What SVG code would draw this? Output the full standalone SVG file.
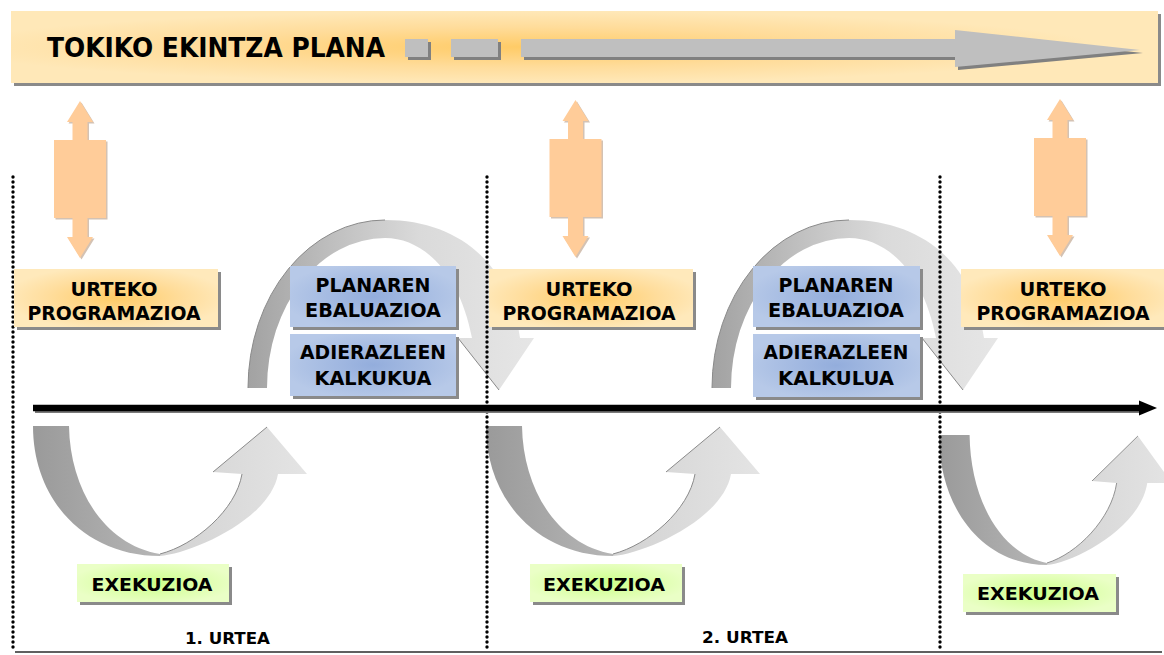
<svg xmlns="http://www.w3.org/2000/svg" xmlns:xlink="http://www.w3.org/1999/xlink" width="1164" height="655" viewBox="0 0 1164 655">
<style>
.t{font-family:"DejaVu Sans","Liberation Sans",sans-serif;font-weight:bold;fill:#000;}
.shadow{fill:#8A8A8A;}
.gray{fill:#BFBFBF;}
.dots{stroke:#000;stroke-width:3.4;stroke-linecap:round;stroke-dasharray:0 5;fill:none;}
.edge{fill:none;stroke:#8A8A8A;stroke-width:1;}
</style>
<defs>
<radialGradient id="gBanner" cx="0.45" cy="0.5" r="0.5">
<stop offset="0" stop-color="#FFCB66"/>
<stop offset="0.55" stop-color="#FFDC9A"/>
<stop offset="1" stop-color="#FFE8B8"/>
</radialGradient>
<radialGradient id="gOrange" cx="0.5" cy="0.5" r="0.55">
<stop offset="0" stop-color="#FFCB66"/>
<stop offset="0.6" stop-color="#FFDD9C"/>
<stop offset="1" stop-color="#FFE9BB"/>
</radialGradient>
<radialGradient id="gBlue" cx="0.5" cy="0.5" r="0.55">
<stop offset="0" stop-color="#93ADDC"/>
<stop offset="1" stop-color="#B7C9E8"/>
</radialGradient>
<radialGradient id="gGreen" cx="0.5" cy="0.5" r="0.55">
<stop offset="0" stop-color="#CCFF8A"/>
<stop offset="1" stop-color="#EAFFC6"/>
</radialGradient>
<linearGradient id="gArch" x1="0" y1="0" x2="1" y2="0">
<stop offset="0" stop-color="#A2A2A2"/>
<stop offset="0.35" stop-color="#C4C4C4"/>
<stop offset="0.6" stop-color="#DADADA"/>
<stop offset="1" stop-color="#E6E6E6"/>
</linearGradient>
<linearGradient id="gDark" x1="0" y1="0" x2="1" y2="0">
<stop offset="0" stop-color="#9A9A9A"/>
<stop offset="1" stop-color="#B6B6B6"/>
</linearGradient>
<linearGradient id="gLight" x1="0" y1="0" x2="1" y2="0">
<stop offset="0" stop-color="#D2D2D2"/>
<stop offset="1" stop-color="#E4E4E4"/>
</linearGradient>
<g id="arch">
<path d="M248,388 A137,168 0 0 1 385,220 C460,220 510,265 520,338 L534,338 L499,390 L458,338 L472,338 C460,275 425,238 385,238 A118,150 0 0 0 267,388 Z" fill="url(#gArch)"/>
<path d="M248,388 A137,168 0 0 1 385,220" class="edge"/>
<path d="M458,338 L499,390" class="edge"/>
</g>
<g id="uarrow">
<path d="M33,426 L69,426 C70,490 105,545 160,554 L160,556 C85,556 33,500 33,426 Z" fill="url(#gDark)"/>
<path d="M160,556 C190,554 270,520 278,474 L307,474 L267,427 L213,472 L242,474 C236,510 195,545 160,554 Z" fill="url(#gLight)"/>
<path d="M160,554 C195,545 236,510 242,474 M213,472 L267,427" class="edge"/>
</g>
<path id="dbl" d="M0,0 L13,21 L7.5,21 L7.5,39 L26,39 L26,117 L7.5,117 L7.5,136 L13,136 L0,157 L-13,136 L-7.5,136 L-7.5,117 L-26,117 L-26,39 L-7.5,39 L-7.5,21 L-13,21 Z"/>
</defs>

<g id="banner">
<rect x="14" y="14" width="1147" height="72" class="shadow"/>
<rect x="11" y="11" width="1147" height="72" fill="url(#gBanner)"/>
<text class="t" x="47" y="57" font-size="26" textLength="338" lengthAdjust="spacingAndGlyphs">TOKIKO EKINTZA PLANA</text>
<rect x="408" y="42" width="23" height="18" fill="#808080"/>
<rect x="405" y="39" width="23" height="18" class="gray"/>
<rect x="454" y="42" width="47" height="18" fill="#808080"/>
<rect x="451" y="39" width="47" height="18" class="gray"/>
<rect x="524" y="42" width="434" height="18" fill="#808080"/>
<polygon points="958,33 1143,53 958,70" fill="#808080"/>
<rect x="521" y="39" width="436" height="18" class="gray"/>
<polygon points="955,30 1140,50 955,67" class="gray"/>
</g>

<g id="connectors">
<use xlink:href="#arch"/>
<use xlink:href="#arch" transform="translate(464,0)"/>
<use xlink:href="#uarrow"/>
<use xlink:href="#uarrow" transform="translate(453,0)"/>
<use xlink:href="#uarrow" transform="translate(939,435) scale(0.85,1) translate(-33,-426)"/>
<line x1="13" y1="177" x2="13" y2="651" class="dots"/>
<line x1="487" y1="177" x2="487" y2="651" class="dots"/>
<line x1="940" y1="177" x2="940" y2="651" class="dots"/>
<line x1="35" y1="410" x2="1142" y2="410" stroke="#7A7A7A" stroke-width="6"/>
<line x1="33" y1="408" x2="1141" y2="408" stroke="#000" stroke-width="6.5"/>
<polygon points="1139,400.5 1157,408 1139,415.5" fill="#000"/>
<line x1="15" y1="652" x2="1162" y2="652" stroke="#606060" stroke-width="2"/>
<g fill="#FFCC99">
<use xlink:href="#dbl" transform="translate(81.5,102.5)" fill="#B89A80" opacity="0.6"/>
<use xlink:href="#dbl" transform="translate(80,101)"/>
<use xlink:href="#dbl" transform="translate(577,101.5)" fill="#B89A80" opacity="0.6"/>
<use xlink:href="#dbl" transform="translate(575.5,100)"/>
<use xlink:href="#dbl" transform="translate(1061.5,100.5)" fill="#B89A80" opacity="0.6"/>
<use xlink:href="#dbl" transform="translate(1060,99)"/>
</g>
</g>

<g id="urteko1">
<rect x="17" y="272" width="204" height="58" class="shadow"/>
<rect x="14" y="269" width="204" height="58" fill="url(#gOrange)"/>
<text class="t" x="114" y="296" font-size="20" text-anchor="middle" textLength="87" lengthAdjust="spacingAndGlyphs">URTEKO</text>
<text class="t" x="114" y="320" font-size="20" text-anchor="middle" textLength="173" lengthAdjust="spacingAndGlyphs">PROGRAMAZIOA</text>
</g>
<g id="urteko2">
<rect x="492" y="272" width="204" height="58" class="shadow"/>
<rect x="489" y="269" width="204" height="58" fill="url(#gOrange)"/>
<text class="t" x="589" y="296" font-size="20" text-anchor="middle" textLength="87" lengthAdjust="spacingAndGlyphs">URTEKO</text>
<text class="t" x="589" y="320" font-size="20" text-anchor="middle" textLength="173" lengthAdjust="spacingAndGlyphs">PROGRAMAZIOA</text>
</g>
<g id="urteko3">
<rect x="964" y="272" width="204" height="58" class="shadow"/>
<rect x="961" y="269" width="206" height="58" fill="url(#gOrange)"/>
<text class="t" x="1063" y="296" font-size="20" text-anchor="middle" textLength="87" lengthAdjust="spacingAndGlyphs">URTEKO</text>
<text class="t" x="1063" y="320" font-size="20" text-anchor="middle" textLength="173" lengthAdjust="spacingAndGlyphs">PROGRAMAZIOA</text>
</g>

<g id="planaren1">
<rect x="293" y="269" width="166" height="61" class="shadow"/>
<rect x="290" y="266" width="166" height="61" fill="url(#gBlue)"/>
<text class="t" x="373" y="292" font-size="19" text-anchor="middle" textLength="115" lengthAdjust="spacingAndGlyphs">PLANAREN</text>
<text class="t" x="373" y="317" font-size="19" text-anchor="middle" textLength="136" lengthAdjust="spacingAndGlyphs">EBALUAZIOA</text>
</g>
<g id="adierazleen1">
<rect x="293" y="337" width="166" height="62" class="shadow"/>
<rect x="290" y="334" width="166" height="62" fill="url(#gBlue)"/>
<text class="t" x="373" y="359" font-size="19" text-anchor="middle" textLength="146" lengthAdjust="spacingAndGlyphs">ADIERAZLEEN</text>
<text class="t" x="373" y="385" font-size="19" text-anchor="middle" textLength="117" lengthAdjust="spacingAndGlyphs">KALKUKUA</text>
</g>
<g id="planaren2">
<rect x="756" y="269" width="167" height="61" class="shadow"/>
<rect x="753" y="266" width="167" height="61" fill="url(#gBlue)"/>
<text class="t" x="836" y="292" font-size="19" text-anchor="middle" textLength="115" lengthAdjust="spacingAndGlyphs">PLANAREN</text>
<text class="t" x="836" y="317" font-size="19" text-anchor="middle" textLength="136" lengthAdjust="spacingAndGlyphs">EBALUAZIOA</text>
</g>
<g id="adierazleen2">
<rect x="756" y="337" width="167" height="63" class="shadow"/>
<rect x="753" y="334" width="167" height="63" fill="url(#gBlue)"/>
<text class="t" x="836" y="359" font-size="19" text-anchor="middle" textLength="145" lengthAdjust="spacingAndGlyphs">ADIERAZLEEN</text>
<text class="t" x="836" y="385" font-size="19" text-anchor="middle" textLength="116" lengthAdjust="spacingAndGlyphs">KALKULUA</text>
</g>

<g id="exekuzioa1">
<rect x="80" y="567" width="152" height="38" class="shadow"/>
<rect x="77" y="564" width="152" height="38" fill="url(#gGreen)"/>
<text class="t" x="152" y="591" font-size="17" text-anchor="middle" textLength="121" lengthAdjust="spacingAndGlyphs">EXEKUZIOA</text>
</g>
<g id="exekuzioa2">
<rect x="533" y="567" width="152" height="38" class="shadow"/>
<rect x="530" y="564" width="152" height="38" fill="url(#gGreen)"/>
<text class="t" x="604" y="591" font-size="17" text-anchor="middle" textLength="122" lengthAdjust="spacingAndGlyphs">EXEKUZIOA</text>
</g>
<g id="exekuzioa3">
<rect x="966" y="577" width="153" height="38" class="shadow"/>
<rect x="963" y="574" width="153" height="38" fill="url(#gGreen)"/>
<text class="t" x="1038" y="600" font-size="17" text-anchor="middle" textLength="122" lengthAdjust="spacingAndGlyphs">EXEKUZIOA</text>
</g>

<g id="urtea1">
<text class="t" x="185" y="644" font-size="15" textLength="85" lengthAdjust="spacingAndGlyphs">1. URTEA</text>
</g>
<g id="urtea2">
<text class="t" x="702" y="643" font-size="15" textLength="86" lengthAdjust="spacingAndGlyphs">2. URTEA</text>
</g>
</svg>
